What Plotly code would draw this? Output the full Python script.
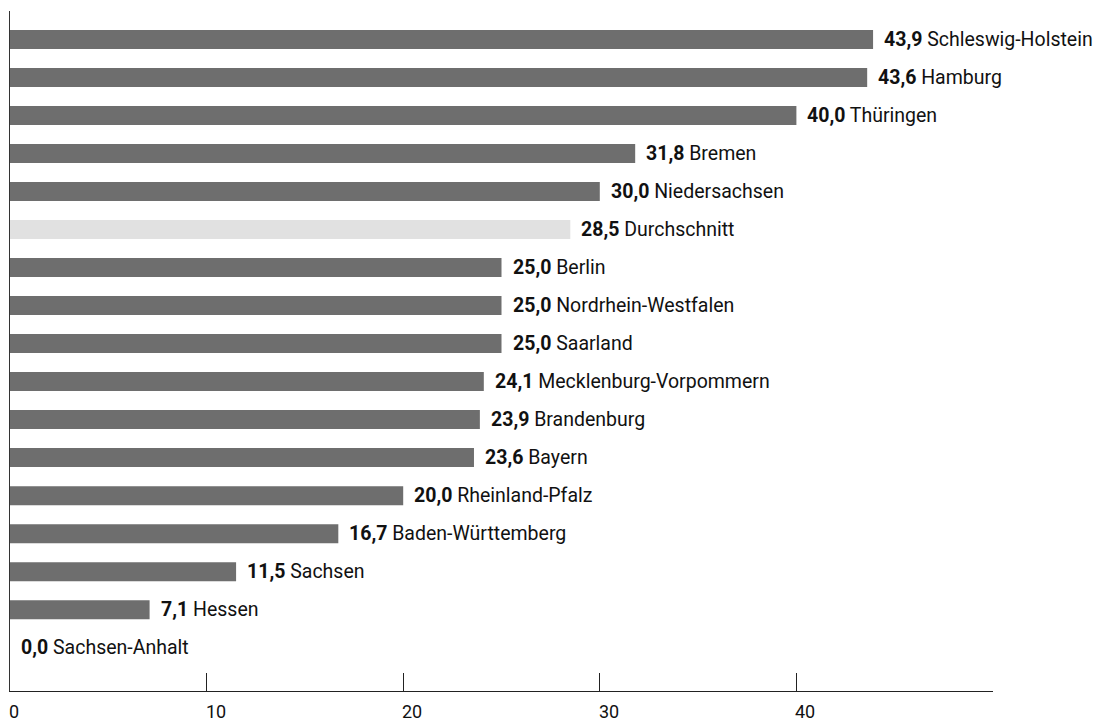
import plotly.graph_objects as go

# Anteil je Bundesland (Werte in Prozent), sortiert absteigend
laender = [
    "Schleswig-Holstein", "Hamburg", "Thüringen", "Bremen", "Niedersachsen",
    "Durchschnitt", "Berlin", "Nordrhein-Westfalen", "Saarland",
    "Mecklenburg-Vorpommern", "Brandenburg", "Bayern", "Rheinland-Pfalz",
    "Baden-Württemberg", "Sachsen", "Hessen", "Sachsen-Anhalt",
]
werte = [43.9, 43.6, 40.0, 31.8, 30.0, 28.5, 25.0, 25.0, 25.0,
         24.1, 23.9, 23.6, 20.0, 16.7, 11.5, 7.1, 0.0]
x_ticks = [0, 10, 20, 30, 40, 50]
x_tick_labels = ["0", "10", "20", "30", "40", ""]

BAR = "#6e6e6e"
AVG = "#e1e1e1"
FONT = "Roboto"

colors = [AVG if n == "Durchschnitt" else BAR for n in laender]

fig = go.Figure(go.Bar(
    x=werte, y=laender, orientation="h",
    marker=dict(color=colors, line=dict(width=0)),
    width=0.5, hoverinfo="skip",
))

def fmt(v):
    return f"{v:.1f}".replace(".", ",")

annotations = []
for name, v in zip(laender, werte):
    annotations.append(dict(
        x=v, y=name, xref="x", yref="y", xanchor="left", yanchor="middle",
        xshift=9, showarrow=False,
        text=f"<b>{fmt(v)}</b> {name}",
        font=dict(family=FONT, size=19.5, color="#111111"),
    ))

# tick labels sit to the right of their tick marks
for t, lab in zip(x_ticks, x_tick_labels):
    if lab:
        annotations.append(dict(
            x=t, y=0, xref="x", yref="paper", xanchor="left", yanchor="middle",
            yshift=-20, xshift=-3, showarrow=False, text=lab,
            font=dict(family=FONT, size=18, color="#111111"),
        ))

fig.update_layout(
    width=1101, height=722,
    margin=dict(l=10, r=108, t=11, b=31),
    paper_bgcolor="white", plot_bgcolor="white",
    showlegend=False, bargap=0.5,
    annotations=annotations,
    xaxis=dict(
        range=[0, 50], tickvals=x_ticks, showticklabels=False,
        ticks="inside", ticklen=18, tickwidth=1, tickcolor="#222222",
        showline=True, linecolor="#222222", linewidth=1,
        showgrid=False, zeroline=False, fixedrange=True,
    ),
    yaxis=dict(
        categoryorder="array", categoryarray=laender,
        range=[len(laender) + 0.14, -0.75],
        showticklabels=False, ticks="",
        showline=True, linecolor="#333333", linewidth=1,
        showgrid=False, zeroline=False, fixedrange=True,
    ),
)

fig.write_html("out.html")
